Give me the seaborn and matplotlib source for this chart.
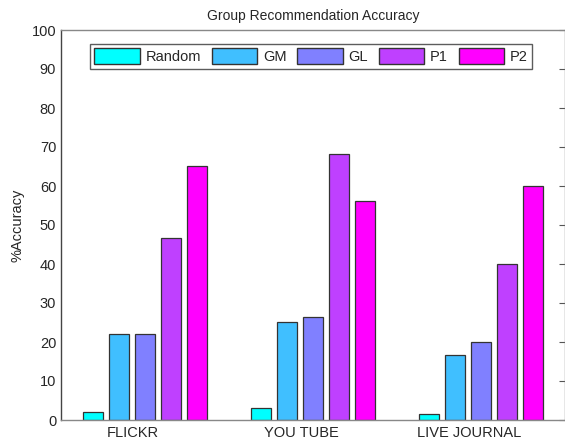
import matplotlib
matplotlib.use("Agg")
import matplotlib.pyplot as plt
import matplotlib.transforms as mtransforms
from matplotlib.patches import Patch
import seaborn as sns
import pandas as pd

datasets = ["FLICKR", "YOU TUBE", "LIVE JOURNAL"]
methods = ["Random", "GM", "GL", "P1", "P2"]
random_vals = [2.0, 3.1, 1.6]
gm_vals = [22.1, 25.1, 16.7]
gl_vals = [22.0, 26.3, 19.9]
p1_vals = [46.6, 68.1, 40.0]
p2_vals = [65.2, 56.2, 60.0]
colors = ["#00FFFF", "#40BFFF", "#8080FF", "#BF40FF", "#FF00FF"]
yticks = list(range(0, 101, 10))

series = [random_vals, gm_vals, gl_vals, p1_vals, p2_vals]
rows = []
for m, vals in zip(methods, series):
    for d, v in zip(datasets, vals):
        rows.append({"Dataset": d, "Method": m, "Accuracy": v})
df = pd.DataFrame(rows)

sns.set_style("white")
plt.rcParams["font.family"] = ["Liberation Sans", "DejaVu Sans"]

fig = plt.figure(figsize=(5.65, 4.45), dpi=100)
ax = fig.add_axes([61 / 565, 25 / 445, 504 / 565, 390 / 445])

sns.barplot(data=df, x="Dataset", y="Accuracy", hue="Method",
            order=datasets, hue_order=methods, palette=colors,
            width=0.775, gap=0.23, edgecolor="#333333", linewidth=0.9,
            saturation=1, ax=ax, legend=False)

ax.set_xlim(-0.5, 2.5)
ax.set_ylim(0, 100)
ax.set_yticks(yticks)
ax.set_xlabel("")
ax.set_ylabel("%Accuracy", fontsize=10.5, labelpad=5)
ax.set_title("Group Recommendation Accuracy", fontsize=10, pad=7)
ax.tick_params(axis="both", labelsize=10.5, direction="in", length=4,
               color="#555555", right=True, top=False, bottom=False)
ax.tick_params(axis="x", pad=4)
offset = mtransforms.ScaledTranslation(-12 / 100, 0, fig.dpi_scale_trans)
for lbl in ax.get_xticklabels():
    lbl.set_transform(lbl.get_transform() + offset)

for side in ["top", "bottom", "right"]:
    ax.spines[side].set_color("#888888")
ax.spines["left"].set_color("#444444")
for s in ax.spines.values():
    s.set_linewidth(1.0)

handles = [Patch(facecolor=c, edgecolor="#333333", linewidth=1.0, label=m)
           for m, c in zip(methods, colors)]
leg = ax.legend(handles=handles, ncol=5, loc="upper left",
                bbox_to_anchor=(29 / 504, 1 - 14 / 390), frameon=True,
                fancybox=False, edgecolor="#333333", fontsize=10.5,
                handlelength=3.1, handleheight=1.3, columnspacing=0.75,
                handletextpad=0.4, borderpad=0.3, borderaxespad=0)
leg.get_frame().set_linewidth(1.0)

fig.savefig("out.png", dpi=100)
